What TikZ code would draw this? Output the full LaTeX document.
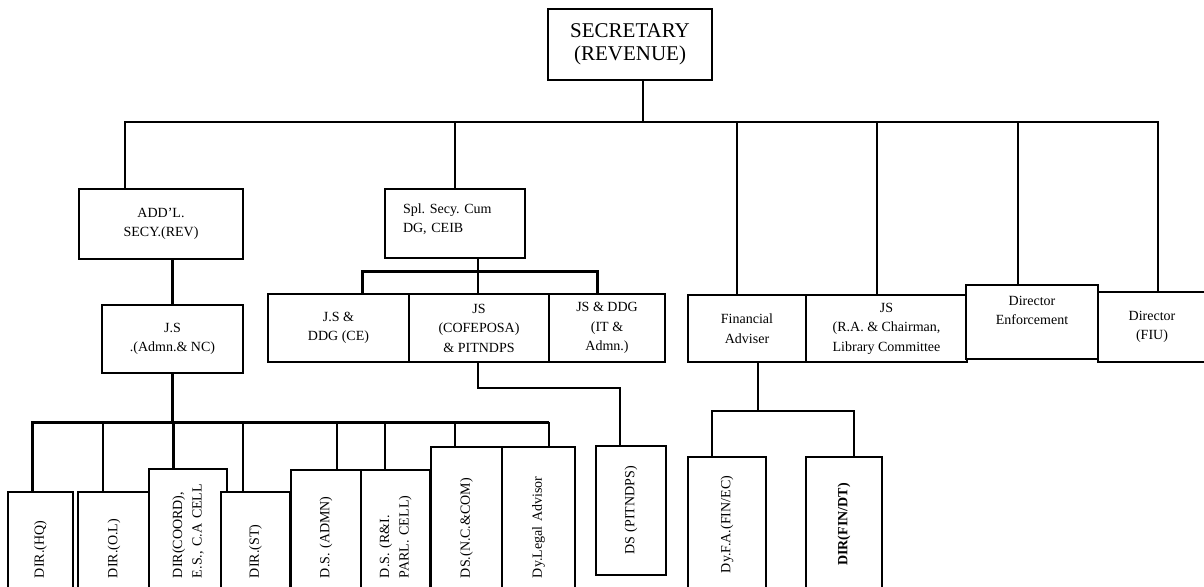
\documentclass[tikz,border=0pt]{standalone}
\usepackage{fontspec}
\setmainfont{Liberation Serif}
\usepackage{tikz}
\usetikzlibrary{positioning, calc}
\newcommand{\boxfont}{\fontsize{14}{19.5}\selectfont}
\newcommand{\headfont}{\fontsize{21}{23}\selectfont}
\frenchspacing

\begin{document}
\begin{tikzpicture}[x=1pt, y=-1pt,
  box/.style={draw, line width=2pt, fill=white, align=center, font=\boxfont, inner sep=4pt},
  vbox/.style={box, rotate=90, align=left, inner xsep=14pt},
  conn/.style={line width=1.6pt},
  thickconn/.style={line width=3pt}]
\useasboundingbox (0,0) rectangle (1204,586);

% Secretary
\node[box, font=\headfont, minimum width=164pt, minimum height=71pt] (sec) at (630,44.5) {SECRETARY\\(REVENUE)};

% Second row
\node[box, minimum width=164pt, minimum height=70pt] (addl) at (161,224) {ADD'L.\\SECY.(REV)};
\node[box, align=left, text width=104pt, inner xsep=18pt, text depth=30pt,
      minimum width=140pt, minimum height=69pt] (spl) at (455,223.5) {Spl. Secy. Cum\\DG, CEIB};
\node[box, minimum width=118pt, minimum height=67pt] (fa) at (747,328.5) {Financial\\Adviser};
\node[box, minimum width=161pt, minimum height=67pt] (jsra) at (886.5,328.5) {JS\\(R.A. \& Chairman,\\Library Committee};
\node[box, text width=110pt, text depth=43pt, minimum width=132pt, minimum height=74pt] (enf) at (1032,322) {Director\\Enforcement};
\node[box, minimum width=108pt, minimum height=70pt] (fiu) at (1152,327) {Director\\(FIU)};

% Joint secretaries
\node[box, minimum width=141pt, minimum height=68pt] (jsa) at (172.5,339) {J.S\\.(Admn.\& NC)};
\node[box, minimum width=141pt, minimum height=68pt] (jsce) at (338.5,328) {J.S \&\\DDG (CE)};
\node[box, minimum width=140pt, minimum height=68pt] (jsc) at (479,328) {JS\\(COFEPOSA)\\\& PITNDPS};
\node[box, minimum width=116pt, minimum height=68pt] (jsit) at (607,328) {JS \& DDG\\(IT \&\\Admn.)};

% Directors / deputy secretaries (rotated)
\node[vbox, minimum width=100pt, minimum height=65pt, text width=72pt] (hq) at (40.5,542) {DIR.(HQ)};
\node[vbox, minimum width=100pt, minimum height=72pt, text width=72pt] (ol) at (114,542) {DIR.(O.L)};
\node[vbox, minimum width=123pt, minimum height=78pt, text width=95pt] (coord) at (188,530.5) {DIR(COORD),\\E.S., C.A CELL};
\node[vbox, minimum width=100pt, minimum height=69pt, text width=72pt] (st) at (255.5,542) {DIR.(ST)};
\node[vbox, minimum width=122pt, minimum height=70pt, text width=94pt] (dsadmn) at (326,531) {D.S. (ADMN)};
\node[vbox, minimum width=122pt, minimum height=69pt, text width=94pt] (dsri) at (395.5,531) {D.S. (R\&I.\\PARL. CELL)};
\node[vbox, minimum width=145pt, minimum height=71pt, text width=117pt] (dsnc) at (466.5,519.5) {DS.(N.C.\&COM)};
\node[vbox, minimum width=145pt, minimum height=73pt, text width=117pt] (legal) at (538.5,519.5) {Dy.Legal Advisor};
\node[vbox, align=center, minimum width=129pt, minimum height=70pt, text width=101pt] (dsp) at (631,510.5) {DS (PITNDPS)};
\node[vbox, align=center, minimum width=135pt, minimum height=78pt, text width=107pt] (dyfa) at (727,524.5) {Dy.F.A.(FIN/EC)};
\node[vbox, align=center, font=\boxfont\bfseries, minimum width=135pt, minimum height=76pt, text width=107pt] (findt) at (844,524.5) {DIR(FIN/DT)};

% Top bus
\coordinate (top) at (643,122);
\draw[conn] (sec.south -| top) -- (top);
\draw[conn] (addl.north -| 125,0) |- (top) -| (fiu.north -| 1158,0);
\foreach \n/\x in {spl/455, fa/737, jsra/877, enf/1018}
  \draw[conn] (\n.north -| \x,0) -- (\x,0 |- top);

% ADD'L branch
\coordinate (jsbus) at (173,422);
\draw[thickconn] (addl.south -| jsa.north) -- (jsa.north);
\draw[thickconn] (jsa.south) -- (jsa.south |- jsbus);
\draw[thickconn] (hq.east -| 32,0) |- (jsbus) -- (jsbus -| 549,0);
\draw[conn] (jsbus -| 549,0) -- (legal.east -| 549,0);
\foreach \n/\x/\s in {ol/103/conn, coord/173/thickconn, st/243/conn, dsadmn/337/conn, dsri/385/conn, dsnc/455/conn}
  \draw[\s] (jsbus -| \x,0) -- (\n.east -| \x,0);

% Spl. Secy branch
\coordinate (splbus) at (478,271);
\draw[conn] (spl.south -| splbus) -- (jsc.north -| splbus);
\draw[thickconn] (jsce.north -| 362,0) |- (splbus) -| (jsit.north -| 597,0);
\coordinate (pitbend) at (620,388);
\draw[conn] (jsc.south -| splbus) |- (pitbend) -- (dsp.east -| pitbend);

% Financial Adviser branch
\coordinate (fabus) at (758,411);
\draw[conn] (fa.south -| fabus) -- (fabus);
\draw[conn] (dyfa.east -| 712,0) |- (fabus) -| (findt.east -| 854,0);
\end{tikzpicture}
\end{document}
